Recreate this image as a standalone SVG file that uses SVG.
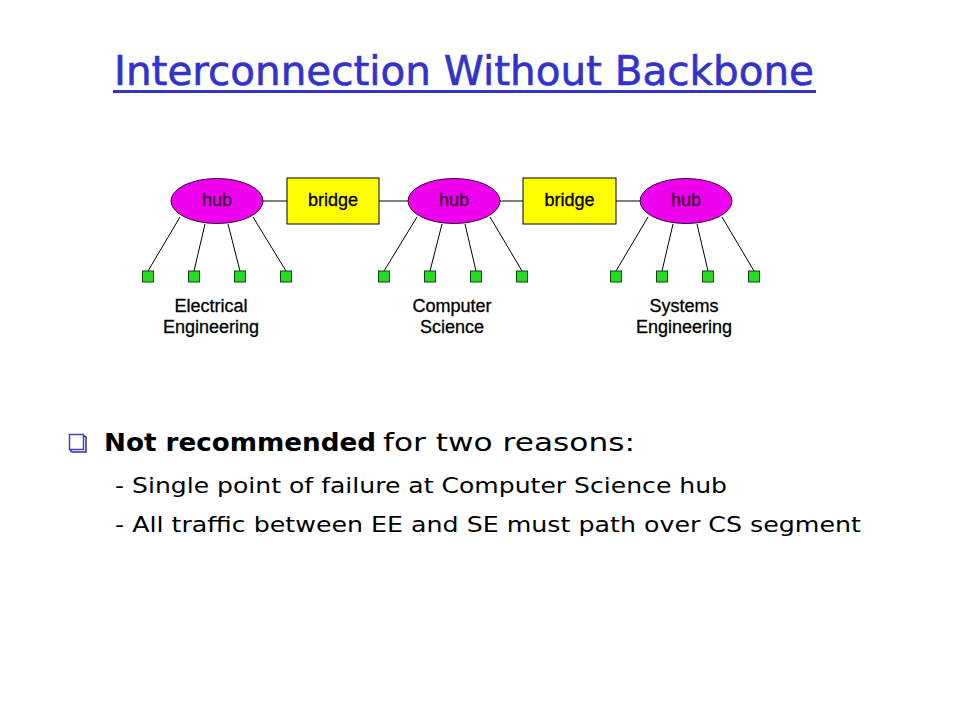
<svg xmlns="http://www.w3.org/2000/svg" width="960" height="720" viewBox="0 0 960 720">
<style>
.hub{fill:#ee00ee;stroke:#330033;stroke-width:1}
.br{fill:#ffff00;stroke:#000;stroke-width:1}
.pc{fill:#22dd22;stroke:#114411;stroke-width:1}
.ln{stroke:#000;stroke-width:1;fill:none}
.lbl{font-family:"Liberation Sans",Arial,sans-serif;font-size:18px;fill:#000;text-anchor:middle;stroke:#000;stroke-width:0.3}
.hubt{fill:#330033;stroke:#330033}
.body{font-family:"DejaVu Sans","Open Sans",sans-serif;fill:#000}
</style>
<rect width="960" height="720" fill="#fff"/>
<g id="title">
<text x="114" y="85" font-family="DejaVu Sans, sans-serif" font-size="40" fill="#3333cc" stroke="#3333cc" stroke-width="0.6" textLength="700" lengthAdjust="spacingAndGlyphs">Interconnection Without Backbone</text>
<rect x="113" y="90" width="703" height="3" fill="#3333cc"/>
</g>
<g id="connectors">
<line class="ln" x1="263" y1="201" x2="287" y2="201"/>
<line class="ln" x1="379" y1="201" x2="408" y2="201"/>
<line class="ln" x1="500" y1="201" x2="523" y2="201"/>
<line class="ln" x1="616" y1="201" x2="640" y2="201"/>
<line class="ln" x1="180" y1="217" x2="148" y2="271"/>
<line class="ln" x1="205" y1="224" x2="194" y2="271"/>
<line class="ln" x1="228" y1="224" x2="240" y2="271"/>
<line class="ln" x1="253" y1="217" x2="286" y2="271"/>
<line class="ln" x1="417" y1="217" x2="384" y2="271"/>
<line class="ln" x1="442" y1="224" x2="430" y2="271"/>
<line class="ln" x1="465" y1="224" x2="476" y2="271"/>
<line class="ln" x1="490" y1="217" x2="522" y2="271"/>
<line class="ln" x1="648" y1="217" x2="616" y2="271"/>
<line class="ln" x1="673" y1="224" x2="662" y2="271"/>
<line class="ln" x1="697" y1="224" x2="708" y2="271"/>
<line class="ln" x1="722" y1="217" x2="754" y2="271"/>
</g>
<g id="hub1"><ellipse class="hub" cx="217" cy="201" rx="46" ry="22.5"/><text class="lbl hubt" x="217" y="206">hub</text></g>
<g id="bridge1"><rect class="br" x="287" y="178" width="92" height="46"/><text class="lbl" x="333" y="206">bridge</text></g>
<g id="hub2"><ellipse class="hub" cx="454" cy="201" rx="46" ry="22.5"/><text class="lbl hubt" x="454" y="206">hub</text></g>
<g id="bridge2"><rect class="br" x="523" y="178" width="93" height="46"/><text class="lbl" x="569.5" y="206">bridge</text></g>
<g id="hub3"><ellipse class="hub" cx="686" cy="201" rx="46" ry="22.5"/><text class="lbl hubt" x="686" y="206">hub</text></g>
<g id="hosts">
<rect class="pc" x="142.5" y="271" width="11" height="11"/>
<rect class="pc" x="188.5" y="271" width="11" height="11"/>
<rect class="pc" x="234.5" y="271" width="11" height="11"/>
<rect class="pc" x="280.5" y="271" width="11" height="11"/>
<rect class="pc" x="378.5" y="271" width="11" height="11"/>
<rect class="pc" x="424.5" y="271" width="11" height="11"/>
<rect class="pc" x="470.5" y="271" width="11" height="11"/>
<rect class="pc" x="516.5" y="271" width="11" height="11"/>
<rect class="pc" x="610.5" y="271" width="11" height="11"/>
<rect class="pc" x="656.5" y="271" width="11" height="11"/>
<rect class="pc" x="702.5" y="271" width="11" height="11"/>
<rect class="pc" x="748.5" y="271" width="11" height="11"/>
</g>
<g id="labels">
<text class="lbl" x="211" y="312">Electrical</text>
<text class="lbl" x="211" y="333">Engineering</text>
<text class="lbl" x="452" y="312">Computer</text>
<text class="lbl" x="452" y="333">Science</text>
<text class="lbl" x="684" y="312">Systems</text>
<text class="lbl" x="684" y="333">Engineering</text>
</g>
<g id="bullets">
<rect x="69.5" y="434.5" width="14" height="15" fill="#fff" stroke="#4040c0" stroke-width="1.5"/>
<polyline points="84,436 86,437 86,452 72,452 70,450" fill="none" stroke="#303090" stroke-width="1.5"/>
<text class="body" x="104" y="451" font-size="25" font-weight="bold" textLength="272" lengthAdjust="spacingAndGlyphs">Not recommended</text>
<text class="body" x="383" y="451" font-size="25" textLength="252" lengthAdjust="spacingAndGlyphs">for two reasons:</text>
<text class="body" x="115" y="493" font-size="22" textLength="612" lengthAdjust="spacingAndGlyphs">- Single point of failure at Computer Science hub</text>
<text class="body" x="115" y="532" font-size="22" textLength="746" lengthAdjust="spacingAndGlyphs">- All traffic between EE and SE must path over CS segment</text>
</g>
</svg>
